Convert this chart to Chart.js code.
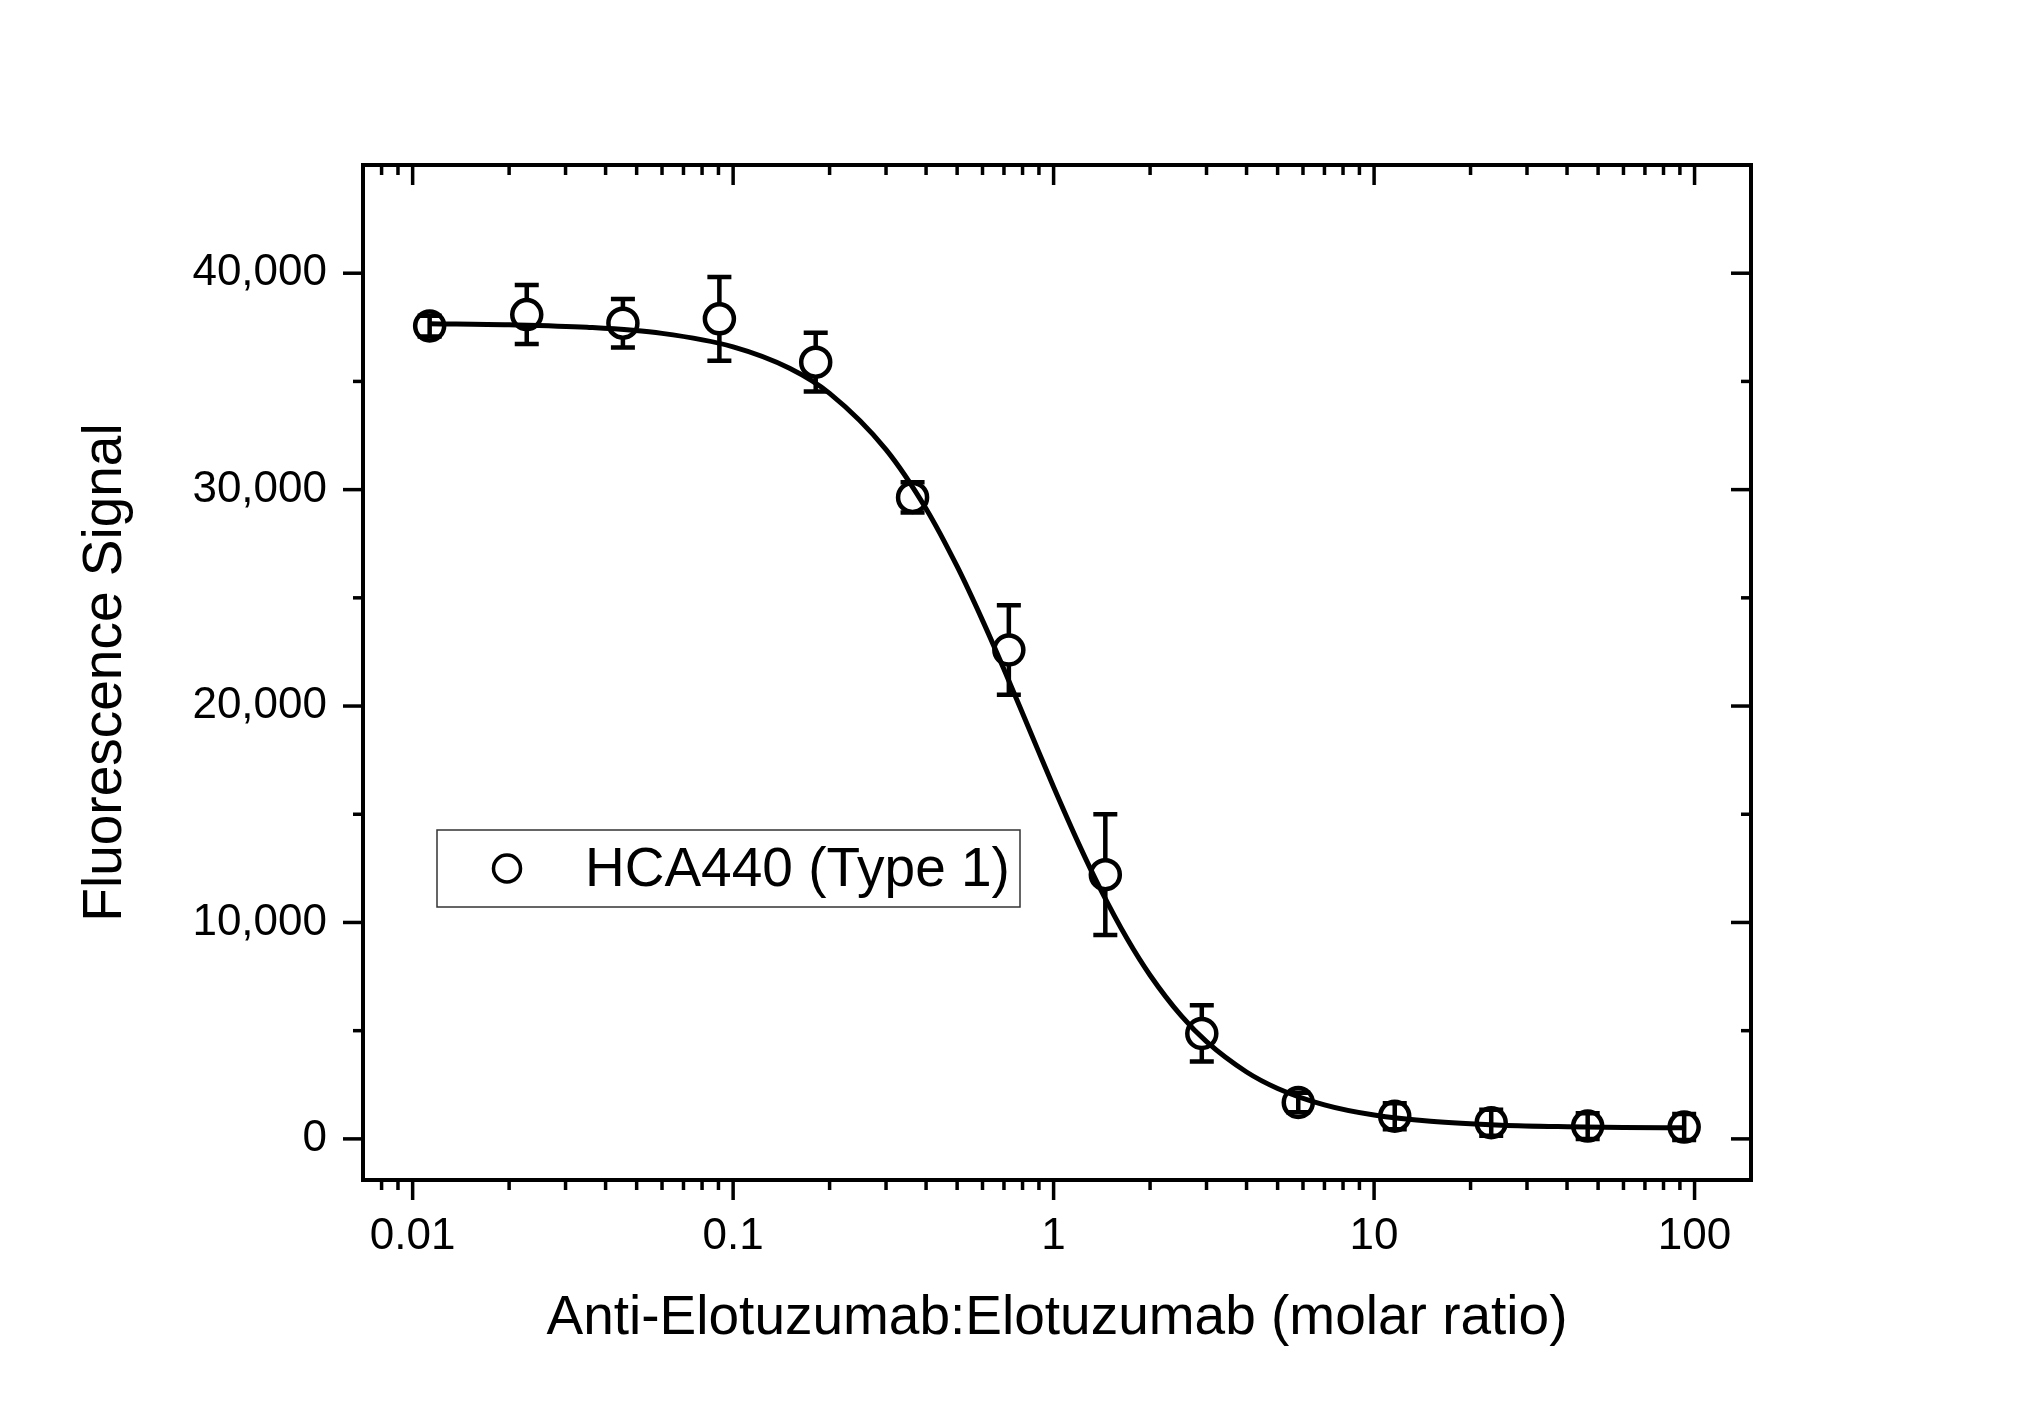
<!DOCTYPE html>
<html>
<head>
<meta charset="utf-8">
<script src="https://cdn.jsdelivr.net/npm/chart.js@4.4.1/dist/chart.umd.min.js"></script>
<style>
  html, body { margin: 0; padding: 0; background: #fff; }
  canvas { display: block; }
</style>
</head>
<body>
<canvas id="curveChart" width="2034" height="1417"></canvas>
<script>
// measured points: molar ratio vs fluorescence (mean, error)
const ratios = [0.0113, 0.0227, 0.0453, 0.0906, 0.181, 0.363, 0.725, 1.45, 2.9, 5.8, 11.6, 23.2, 46.4, 92.8];
const signals = [37560, 38090, 37690, 37890, 35890, 29640, 22590, 12210, 4870, 1680, 1050, 750, 590, 545];
const errors = [480, 1360, 1120, 1940, 1360, 700, 2070, 2790, 1300, 450, 600, 600, 600, 600];

// fitted curve
const fitRatios = [0.0113, 0.02, 0.035, 0.06, 0.1, 0.15, 0.2, 0.3, 0.4, 0.5, 0.6, 0.7, 0.8, 0.9, 1.0,
  1.2, 1.4, 1.7, 2.0, 2.5, 3, 4, 5, 7, 10, 15, 25, 40, 60, 92.8];
const fitSignals = [37670, 37620, 37500, 37220, 36600, 35610, 34450, 31850, 29120, 26450, 23960, 21700, 19670, 17860, 16260,
  13610, 11540, 9220, 7560, 5690, 4490, 3090, 2330, 1570, 1100, 810, 630, 560, 530, 515];

// axis ticks
const xTickValues = [0.01, 0.1, 1, 10, 100];
const xMinorValues = [0.008, 0.009, 0.02, 0.03, 0.04, 0.05, 0.06, 0.07, 0.08, 0.09,
  0.2, 0.3, 0.4, 0.5, 0.6, 0.7, 0.8, 0.9, 2, 3, 4, 5, 6, 7, 8, 9,
  20, 30, 40, 50, 60, 70, 80, 90];
const yTickValues = [0, 10000, 20000, 30000, 40000];
const yMinorValues = [5000, 15000, 25000, 35000];

const legendLabel = "HCA440 (Type 1)";
const xTitle = "Anti-Elotuzumab:Elotuzumab (molar ratio)";
const yTitle = "Fluorescence Signal";

const FONT = "'Liberation Sans', Arial, sans-serif";

function drawBars(chart, smallOnes) {
  const { ctx, scales: { y } } = chart;
  const meta = chart.getDatasetMeta(1);
  ctx.save();
  ctx.strokeStyle = "#000";
  ctx.lineWidth = 4.5;
  meta.data.forEach((pt, i) => {
    const top = y.getPixelForValue(signals[i] + errors[i]);
    const bottom = y.getPixelForValue(signals[i] - errors[i]);
    const small = (bottom - top) / 2 < 14.5;
    if (small !== smallOnes) return;
    ctx.beginPath();
    ctx.moveTo(pt.x, top); ctx.lineTo(pt.x, bottom);
    ctx.moveTo(pt.x - 12, top); ctx.lineTo(pt.x + 12, top);
    ctx.moveTo(pt.x - 12, bottom); ctx.lineTo(pt.x + 12, bottom);
    ctx.stroke();
  });
  ctx.restore();
}

const errorBars = {
  id: "errorBars",
  beforeDatasetsDraw(chart) { drawBars(chart, false); },
  afterDatasetsDraw(chart) { drawBars(chart, true); }
};

const frameAndTicks = {
  id: "frameAndTicks",
  afterDatasetsDraw(chart) {
    const { ctx, chartArea: a, scales: { x, y } } = chart;
    const line = (x1, y1, x2, y2) => { ctx.beginPath(); ctx.moveTo(x1, y1); ctx.lineTo(x2, y2); ctx.stroke(); };
    ctx.save();
    ctx.strokeStyle = "#000";
    ctx.lineWidth = 3.5;
    xTickValues.forEach(v => {
      const px = x.getPixelForValue(v);
      line(px, a.bottom, px, a.bottom + 20);
      line(px, a.top, px, a.top + 20);
    });
    xMinorValues.forEach(v => {
      if (v <= x.min || v >= x.max) return;
      const px = x.getPixelForValue(v);
      line(px, a.bottom, px, a.bottom + 10);
      line(px, a.top, px, a.top + 10);
    });
    yTickValues.forEach(v => {
      const py = y.getPixelForValue(v);
      line(a.left - 20, py, a.left, py);
      line(a.right - 20, py, a.right, py);
    });
    yMinorValues.forEach(v => {
      const py = y.getPixelForValue(v);
      line(a.left - 10, py, a.left, py);
      line(a.right - 10, py, a.right, py);
    });
    ctx.lineWidth = 4;
    ctx.strokeRect(a.left, a.top, a.right - a.left, a.bottom - a.top);
    ctx.restore();
  }
};

const boxLegend = {
  id: "boxLegend",
  afterDraw(chart) {
    const { ctx, chartArea: a } = chart;
    const left = a.left + 74, top = a.top + 665, w = 583, h = 77;
    ctx.save();
    ctx.fillStyle = "#fff";
    ctx.fillRect(left, top, w, h);
    ctx.strokeStyle = "#333";
    ctx.lineWidth = 1.5;
    ctx.strokeRect(left, top, w, h);
    ctx.beginPath();
    ctx.arc(left + 70, top + h / 2, 13.5, 0, Math.PI * 2);
    ctx.strokeStyle = "#000";
    ctx.lineWidth = 3.5;
    ctx.stroke();
    ctx.fillStyle = "#000";
    ctx.font = "55px " + FONT;
    ctx.textBaseline = "middle";
    ctx.fillText(legendLabel, left + 148, top + h / 2 + 2);
    ctx.restore();
  }
};

new Chart(document.getElementById("curveChart").getContext("2d"), {
  type: "scatter",
  data: {
    datasets: [
      {
        label: "fit",
        data: fitRatios.map((r, i) => ({ x: r, y: fitSignals[i] })),
        showLine: true,
        borderColor: "#000",
        borderWidth: 5,
        pointRadius: 0,
        cubicInterpolationMode: "monotone",
        order: 0
      },
      {
        label: legendLabel,
        data: ratios.map((r, i) => ({ x: r, y: signals[i] })),
        showLine: false,
        pointRadius: 14.5,
        pointBorderWidth: 4.5,
        pointBackgroundColor: "#fff",
        pointBorderColor: "#000",
        order: 1
      }
    ]
  },
  options: {
    responsive: false,
    animation: false,
    events: [],
    layout: { padding: { left: 0, top: 165, right: 283, bottom: 0 } },
    plugins: { legend: { display: false }, tooltip: { enabled: false } },
    scales: {
      x: {
        type: "logarithmic",
        min: 0.007,
        max: 150,
        grid: { display: false, drawTicks: false },
        border: { display: false },
        afterBuildTicks: s => { s.ticks = xTickValues.map(v => ({ value: v })); },
        afterFit: s => { s.height = 237; },
        ticks: {
          color: "#000",
          padding: 30,
          maxRotation: 0,
          font: { family: FONT, size: 44, lineHeight: 1.2 },
          callback: v => String(v)
        },
        title: {
          display: true,
          text: xTitle,
          color: "#000",
          font: { family: FONT, size: 55, lineHeight: 1.2 },
          padding: { top: 0, bottom: 65 }
        }
      },
      y: {
        min: -1900,
        max: 45000,
        grid: { display: false, drawTicks: false },
        border: { display: false },
        afterBuildTicks: s => { s.ticks = yTickValues.map(v => ({ value: v })); },
        afterFit: s => { s.width = 363; },
        ticks: {
          color: "#000",
          padding: 36,
          font: { family: FONT, size: 44, lineHeight: 1.2 },
          callback: v => v.toLocaleString("en-US")
        },
        title: {
          display: true,
          text: yTitle,
          color: "#000",
          font: { family: FONT, size: 55, lineHeight: 1.2 },
          padding: { top: 73, bottom: 0 }
        }
      }
    }
  },
  plugins: [errorBars, frameAndTicks, boxLegend]
});
</script>
</body>
</html>
